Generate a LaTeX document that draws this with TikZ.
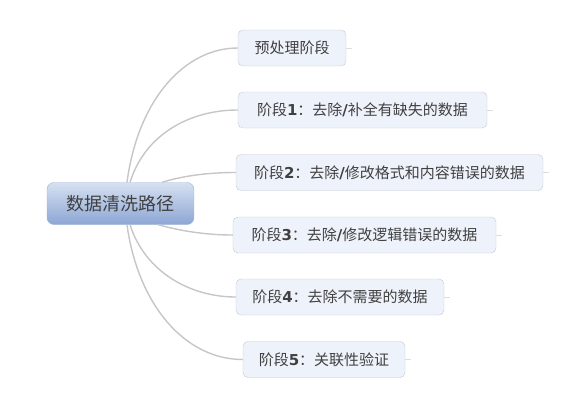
\documentclass[tikz,border=0pt]{standalone}
\usepackage{fontspec}
\setmainfont{Noto Sans CJK SC}
\newfontfamily\digitfont{DejaVu Sans}
\definecolor{linegray}{HTML}{C6C6C6}
\definecolor{textgray}{HTML}{404040}
\definecolor{roottop}{HTML}{D6E1F1}
\definecolor{rootbottom}{HTML}{8CA6D4}
\definecolor{rootborder}{HTML}{9DB2D6}
\definecolor{stagefill}{HTML}{EEF2FA}
\definecolor{stageborder}{HTML}{C4C8D2}
\newcommand{\stagenum}[1]{{\digitfont\bfseries #1}}

\begin{document}
\begin{tikzpicture}[x=1pt, y=-1pt,
	root/.style={draw=rootborder, rounded corners=7pt, top color=roottop, bottom color=rootbottom, minimum width=147pt, minimum height=42pt, inner sep=0pt, text=textgray, font=\fontsize{18}{18}\selectfont},
	stage/.style={draw=stageborder, rounded corners=5pt, fill=stagefill, minimum height=36pt, inner sep=0pt, text=textgray, font=\fontsize{15}{15}\selectfont},
	branch/.style={linegray, line width=1.4pt},
	stub/.style={linegray!60, line width=1pt}]

		\useasboundingbox (0, 0) rectangle (581, 408);

		\node[root]	(root) at (120.5, 203.5) {数据清洗路径};

		\node[stage, minimum width=108pt]	(pre) at (292, 48) {预处理阶段};
		\node[stage, minimum width=249pt]	(s1) at (362.5, 110) {阶段\stagenum{1}：去除\stagenum{/}补全有缺失的数据};
		\node[stage, minimum width=307pt]	(s2) at (389.5, 172.5) {阶段\stagenum{2}：去除\stagenum{/}修改格式和内容错误的数据};
		\node[stage, minimum width=263pt]	(s3) at (364.5, 235) {阶段\stagenum{3}：去除\stagenum{/}修改逻辑错误的数据};
		\node[stage, minimum width=208pt]	(s4) at (340, 297) {阶段\stagenum{4}：去除不需要的数据};
		\node[stage, minimum width=162pt]	(s5) at (324, 359.5) {阶段\stagenum{5}：关联性验证};

		\draw[branch]	([xshift=6.5pt]root.north) .. controls +(11, -83) and +(-53, 0) .. (pre.west);
		\draw[branch]	([xshift=9.5pt]root.north) .. controls +(15, -48) and +(-48, 0) .. (s1.west);
		\draw[branch]	([xshift=41.5pt]root.north) .. controls +(23, -7) and +(-26, 0) .. (s2.west);
		\draw[branch]	([xshift=37.5pt]root.south) .. controls +(22, 6) and +(-28, 0) .. (s3.west);
		\draw[branch]	([xshift=9.5pt]root.south) .. controls +(15, 47) and +(-46, 0) .. (s4.west);
		\draw[branch]	([xshift=6.5pt]root.south) .. controls +(11, 80) and +(-58, 0) .. (s5.west);

		\draw[stub]	(pre.east) to ++(6, 0);
		\draw[stub]	(s1.east) to ++(6, 0);
		\draw[stub]	(s2.east) to ++(6, 0);
		\draw[stub]	(s3.east) to ++(6, 0);
		\draw[stub]	(s4.east) to ++(6, 0);
		\draw[stub]	(s5.east) to ++(6, 0);
	\end{tikzpicture}
\end{document}
